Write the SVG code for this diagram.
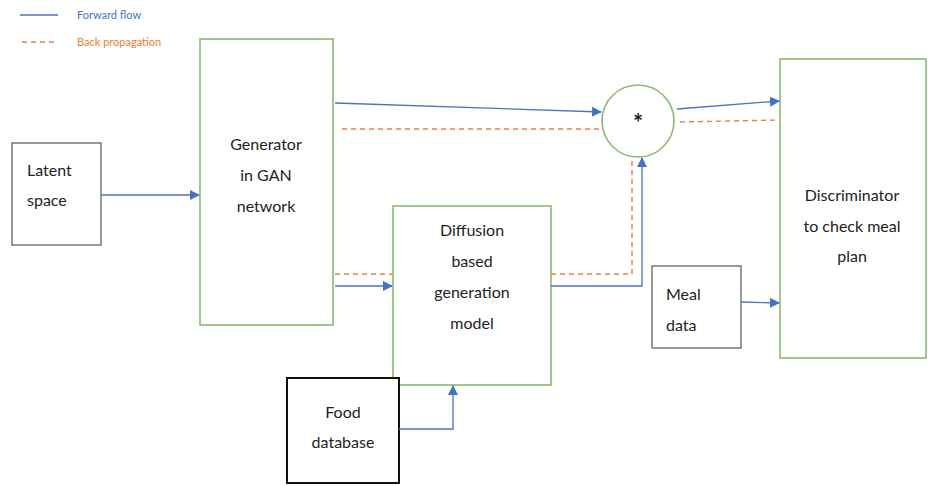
<svg xmlns="http://www.w3.org/2000/svg" width="928" height="486" viewBox="0 0 928 486">
<defs>
<marker id="ah" viewBox="0 0 10 10" refX="9" refY="5" markerWidth="10" markerHeight="10" markerUnits="userSpaceOnUse" orient="auto">
<path d="M0,0 L10,5 L0,10 z" fill="#4472C4"/>
</marker>
</defs>
<style>
text{font-family:Lato,"Open Sans","Liberation Sans",sans-serif;font-size:16px;fill:#222}
.green{fill:#fff;stroke:#8DB870;stroke-width:1.6}
.gray{fill:#fff;stroke:#555;stroke-width:1.2}
.black{fill:#fff;stroke:#111;stroke-width:2}
.fw{fill:none;stroke:#4F72BE;stroke-width:1.3}
.bp{fill:none;stroke:#EE7B4A;stroke-width:1.4;stroke-dasharray:5 4}
.c{text-anchor:middle}
.leg{font-size:11px}
</style>
<g id="legend">
<line x1="20" y1="15" x2="58" y2="15" class="fw"/>
<text x="77" y="19" class="leg" style="fill:#4472C4">Forward flow</text>
<line x1="22" y1="42" x2="56" y2="42" class="bp"/>
<text x="77" y="46" class="leg" style="fill:#ED7D31">Back propagation</text>
</g>
<g id="latent">
<rect x="12" y="143" width="89" height="102" class="gray"/>
<text x="27" y="176">Latent</text>
<text x="27" y="206">space</text>
</g>
<g id="generator">
<rect x="200" y="39" width="133" height="286" class="green"/>
<text x="266" y="150" class="c">Generator</text>
<text x="266" y="181" class="c">in GAN</text>
<text x="266" y="212" class="c">network</text>
</g>
<g id="multiply">
<circle cx="638" cy="121" r="36" class="green"/>
<text x="638" y="132" class="c" style="font-size:24px;font-weight:bold">*</text>
</g>
<g id="discriminator">
<rect x="780" y="59" width="146" height="299" class="green"/>
<text x="852" y="201" class="c">Discriminator</text>
<text x="852" y="232" class="c">to check meal</text>
<text x="852" y="262" class="c">plan</text>
</g>
<g id="diffusion">
<rect x="393" y="206" width="158" height="179" class="green"/>
<text x="472" y="236" class="c">Diffusion</text>
<text x="472" y="267" class="c">based</text>
<text x="472" y="298" class="c">generation</text>
<text x="472" y="329" class="c">model</text>
</g>
<g id="meal">
<rect x="652" y="266" width="89" height="82" class="gray"/>
<text x="666" y="300">Meal</text>
<text x="666" y="331">data</text>
</g>
<g id="food">
<rect x="287" y="378" width="112" height="105" class="black"/>
<text x="343" y="418" class="c">Food</text>
<text x="343" y="448" class="c">database</text>
</g>
<g id="connectors">
<line x1="101" y1="195" x2="199" y2="195" class="fw" marker-end="url(#ah)"/>
<line x1="335" y1="103" x2="601" y2="112" class="fw" marker-end="url(#ah)"/>
<line x1="342" y1="129" x2="601" y2="129" class="bp"/>
<line x1="677" y1="109" x2="779" y2="101" class="fw" marker-end="url(#ah)"/>
<line x1="680" y1="122" x2="779" y2="120" class="bp"/>
<line x1="335" y1="286" x2="392" y2="286" class="fw" marker-end="url(#ah)"/>
<line x1="335" y1="274" x2="392" y2="274" class="bp"/>
<polyline points="551,286 642,286 642,158" class="fw" marker-end="url(#ah)"/>
<polyline points="551,274 632,274 632,160" class="bp"/>
<line x1="741" y1="302" x2="779" y2="303" class="fw" marker-end="url(#ah)"/>
<polyline points="399,429 453,429 453,386" class="fw" marker-end="url(#ah)"/>
</g>
</svg>
